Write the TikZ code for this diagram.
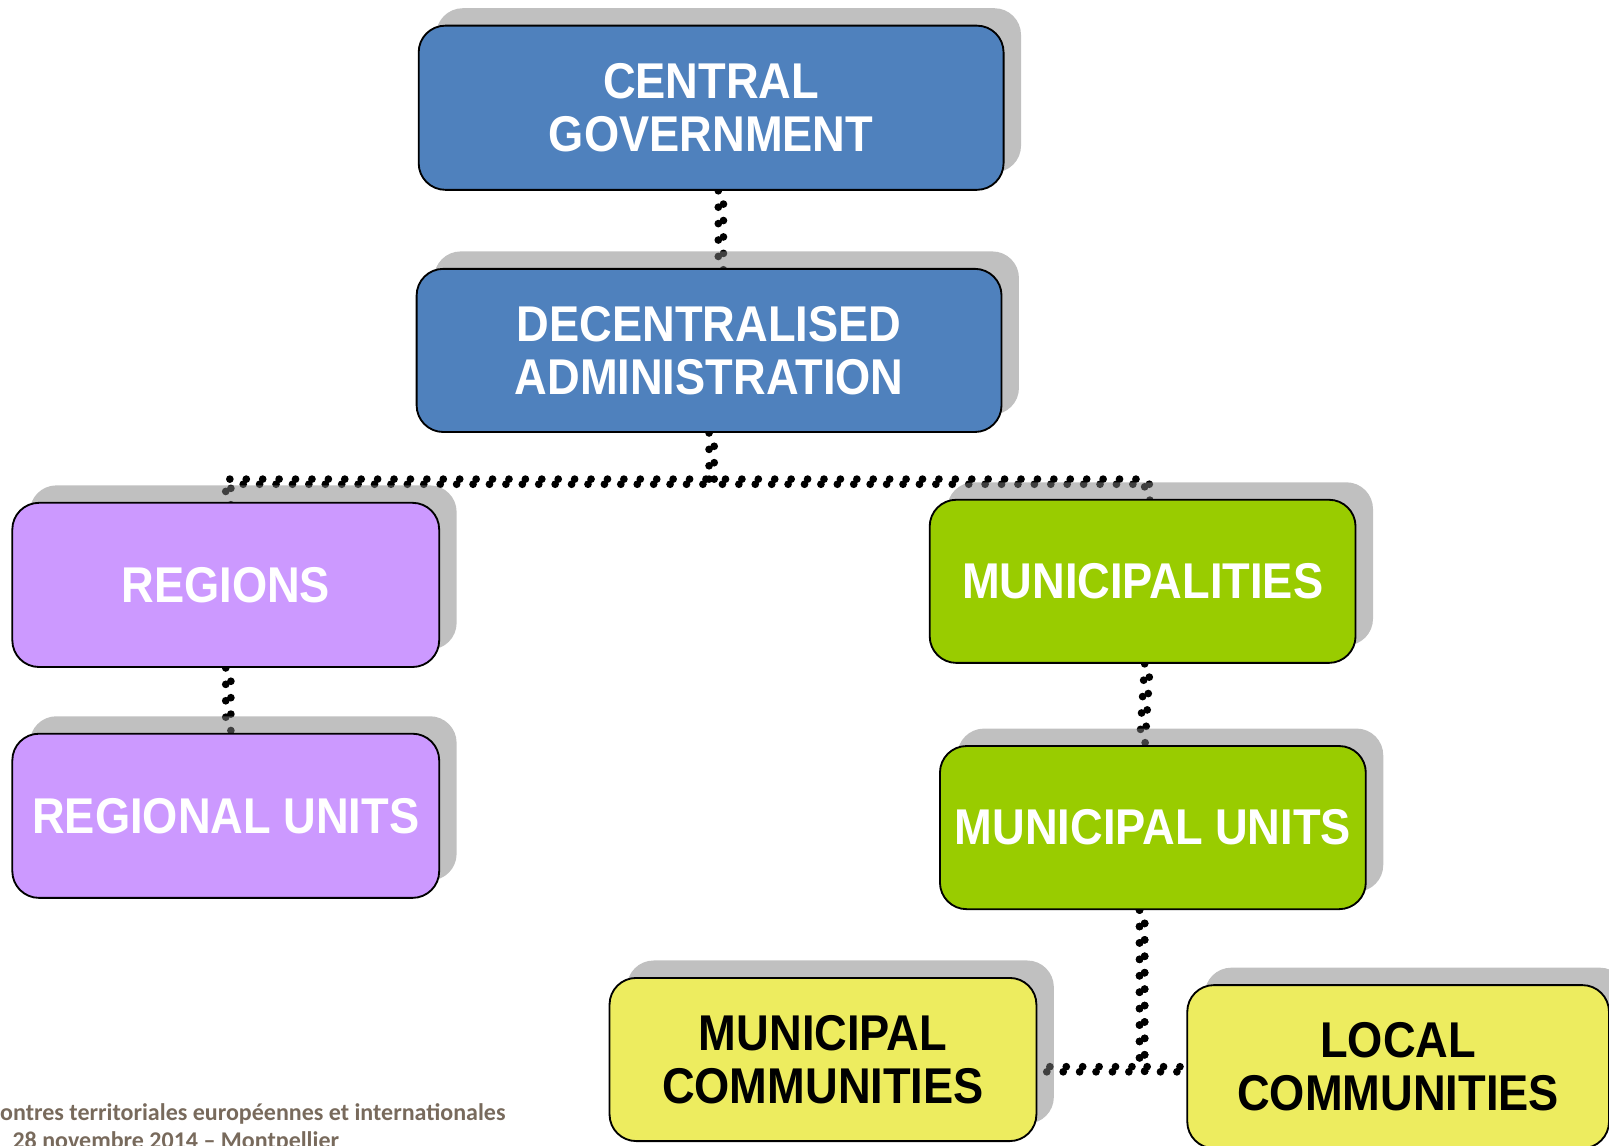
\documentclass[tikz,border=0pt]{standalone}
\usepackage{fontspec}
\newfontfamily\boxfont[FakeStretch=0.9]{Liberation Sans}
\newfontfamily\footfont{Carlito}
\usetikzlibrary{shadows}
\definecolor{bluefill}{HTML}{4F81BD}
\definecolor{purplefill}{HTML}{CC99FF}
\definecolor{greenfill}{HTML}{99CC00}
\definecolor{yellowfill}{HTML}{EDEC5F}
\definecolor{shadowgray}{HTML}{818181}
\definecolor{footcolor}{HTML}{786A5C}
\pgfdeclarelayer{bg}
\pgfsetlayers{bg,main}
\begin{document}
\begin{tikzpicture}[x=1pt,y=-1pt,
  box/.style={draw=black, line width=1.8pt, rounded corners=26pt, align=center, inner sep=0pt,
    font=\boxfont\bfseries\fontsize{49}{52}\selectfont,
    drop shadow={shadow xshift=17pt, shadow yshift=17pt, fill=shadowgray, opacity=0.5}},
  bluebox/.style={box, fill=bluefill, text=white, minimum width=570pt, minimum height=160pt},
  purplebox/.style={box, fill=purplefill, text=white, minimum width=416pt, minimum height=160pt},
  greenbox/.style={box, fill=greenfill, text=white, minimum width=415pt, minimum height=159pt},
  yellowbox/.style={box, fill=yellowfill, text=black, minimum width=416pt, minimum height=159pt},
  dotline/.style={line width=7.5pt, line cap=round, dash pattern=on 0pt off 16pt},
  dotlineB/.style={dotline, dash phase=8pt, transform canvas={xshift=5pt, yshift=-5pt}},
  foot/.style={anchor=base west, inner sep=0pt, text=footcolor, font=\footfont\bfseries\fontsize{23.4}{27}\selectfont}
]
\useasboundingbox (0,0) rectangle (1568,1116);
\clip (0,0) rectangle (1568,1116);

\node[bluebox] (cg) at (693,105) {CENTRAL\\GOVERNMENT};
\node[bluebox, minimum height=159pt] (da) at (691,341.5) {DECENTRALISED\\ADMINISTRATION};
\node[purplebox] (reg) at (220,570) {REGIONS};
\node[purplebox] (ru) at (220,795) {REGIONAL UNITS};
\node[greenbox] (mun) at (1113.5,566.5) {MUNICIPALITIES};
\node[greenbox] (mu) at (1123.5,806.5) {MUNICIPAL UNITS};
\node[yellowbox] (mc) at (802,1032.5) {MUNICIPAL\\COMMUNITIES};
\node[yellowbox, minimum width=411pt] (lc) at (1362.5,1039.5) {LOCAL\\COMMUNITIES};

\node[foot] (f1) at (0,1092) {ontres territoriales européennes et internationales};
\node[foot] (f2) at (12,1119) {28 novembre 2014 – Montpellier};

\begin{pgfonlayer}{bg}
\foreach \s in {dotline, dotlineB} {
  \draw[\s] ([xshift=7pt]cg.south) -- ([xshift=9pt]da.north);
  \draw[\s] (da.south) -- ([yshift=-45pt]da.south) -| (reg.north);
  \draw[\s] ([yshift=-45pt]da.south) -| ([xshift=2pt]mun.north);
  \draw[\s] (reg.south) -- (ru.north);
  \draw[\s] ([xshift=2pt]mun.south) -- ([xshift=-13pt]mu.north);
  \draw[\s] ([xshift=-13pt]mu.south) |- (lc.west);
  \draw[\s] ([xshift=-13pt]mu.south) |- ([yshift=-7pt]mc.east);
}
\end{pgfonlayer}
\end{tikzpicture}
\end{document}
